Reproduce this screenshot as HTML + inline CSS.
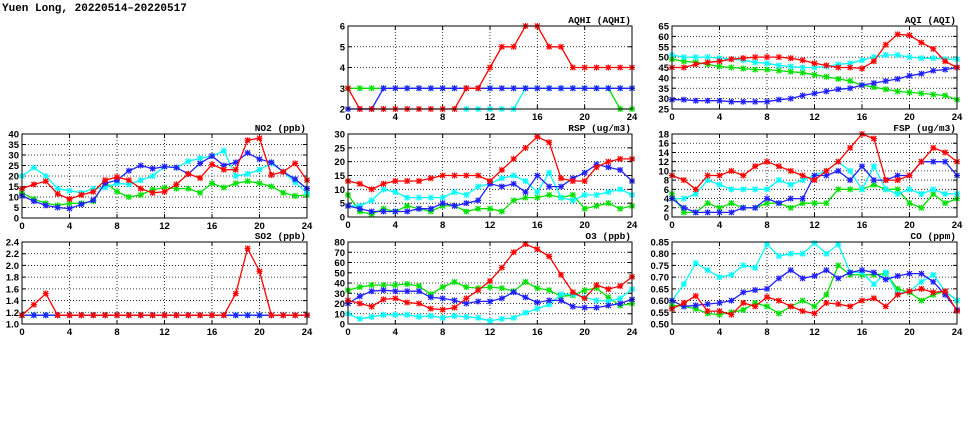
<!DOCTYPE html>
<html><head><meta charset="utf-8"><style>
body{margin:0;background:#fff;width:975px;height:447px;overflow:hidden}
svg{display:block;font-family:"Liberation Sans",sans-serif}
</style></head><body>
<svg id="c" width="975" height="447">
<text x="2" y="11" font-size="11" font-weight="bold" font-family="Liberation Mono, monospace">Yuen Long, 20220514–20220517</text>
</svg>
<script>
const N=null;
const hours=[0,1,2,3,4,5,6,7,8,9,10,11,12,13,14,15,16,17,18,19,20,21,22,23,24];
const xTicks=[0,4,8,12,16,20,24];
const colors={green:"#00e000",cyan:"#00ffff",blue:"#2020ff",red:"#ff0000"};

const aqhiRed=[3,2,2,2,2,2,2,2,2,2,3,3,4,5,5,6,6,5,5,4,4,4,4,4,4];
const aqhiGreen=[3,3,3,3,3,3,3,3,3,3,3,3,3,3,3,3,3,3,3,3,3,3,3,2,2];
const aqhiBlue=[2,2,2,3,3,3,3,3,3,3,3,3,3,3,3,3,3,3,3,3,3,3,3,3,3];
const aqhiCyan=[N,N,N,N,N,N,N,N,N,N,2,2,2,2,2,3,3,3,3,3,3,3,3,3,3];
const aqhiTicks=[2,3,4,5,6];

const aqiRed=[45,45,46.5,47.5,48,49,49.5,50,50,50,49.5,48.5,47,46,45,45,44.5,48,56,61,60.5,57,54,48,45];
const aqiCyan=[51,50,50,50,49.5,49,48.5,47.5,47,46,45.5,45,45,45.5,46.5,47,48.5,50,51,51,50,49.5,49.5,49,49];
const aqiGreen=[49,48,47.5,46.5,45.5,45,44.5,44,44,43.5,43,42.5,41.5,40.5,39.5,38.5,36.5,35.5,34.5,33.5,33,32.5,32,31.5,29.5];
const aqiBlue=[29.5,29.5,29,29,29,28.5,28.5,28.5,28.5,29.5,30,31.5,32.5,33.5,34.5,35,36.5,37.5,38.5,39.5,41,42,43.5,44,45];
const aqiTicks=[25,30,35,40,45,50,55,60,65];

const no2Red=[14,16,17.5,11.5,9,11,12.5,18,19.5,18,14,12,12.5,16,21,19,25.5,23,23,37,38,20.5,22,26,18];
const no2Cyan=[20,24,20,14,13,12,14,14.5,16.5,16,18,20,24.5,24,27,28.5,29.5,32,20,21,23,26,22,17,12];
const no2Blue=[10.5,8,6,5,4.5,6.5,8.5,16.5,18,22.5,25,23.5,24.5,24,21,26,29.5,25,26.5,31,28,26.5,22,18.5,14];
const no2Green=[12,9,7,6,7,7,8,17,12.5,10,11,13.5,14.5,14,14,12,16.5,14.5,16.5,17.5,16.5,15,12,10.5,11];
const no2Ticks=[0,5,10,15,20,25,30,35,40];

const rspRed=[13,12,10,12,13,13,13,14,15,15,15,15,13,17,21,25,29,27,14,13,13,18,20,21,21];
const rspCyan=[4,4,6,10,9,7,7,7,7,9,8,11,12,14,15,13,9,16,7,6,8,8,9,10,8];
const rspBlue=[4,3,2,2,2,2,3,3,5,4,5,6,12,11,12,9,15,11,11,14,16,19,18,17,13];
const rspGreen=[8,2,1,3,2,4,3,2,4,4,2,3,3,2,6,7,7,8,7,8,3,4,5,3,4];
const rspTicks=[0,5,10,15,20,25,30];

const fspRed=[9,8,6,9,9,10,9,11,12,11,10,9,8,10,12,15,18,17,8,8,9,12,15,14,12];
const fspCyan=[4,4,5,8,7,6,6,6,6,8,7,8,9,10,12,10,6,11,6,5,6,5,6,5,5];
const fspBlue=[4,2,1,1,1,1,2,2,4,3,4,4,9,9,10,8,11,8,8,9,9,12,12,12,9];
const fspGreen=[5,1,1,3,2,3,2,2,3,3,2,3,3,3,6,6,6,7,6,6,3,2,5,3,4];
const fspTicks=[0,2,4,6,8,10,12,14,16,18];

const so2Red=[1.15,1.33,1.52,1.15,1.15,1.15,1.15,1.15,1.15,1.15,1.15,1.15,1.15,1.15,1.15,1.15,1.15,1.15,1.52,2.29,1.9,1.15,1.15,1.15,1.15];
const so2Other=[1.15,1.15,1.15,1.15,1.15,1.15,1.15,1.15,1.15,1.15,1.15,1.15,1.15,1.15,1.15,1.15,1.15,1.15,1.15,1.15,1.15,1.15,1.15,1.15,1.15];
const so2Ticks=[1.0,1.2,1.4,1.6,1.8,2.0,2.2,2.4];

const o3Red=[23,20,17,24,25,21,20,15,14,16,25,33,42,55,70,78,73,66,48,31,25,38,34,37,46];
const o3Green=[33,36,38,38,38,39,37,29,36,41,36,35,36,35,32,41,35,33,27,28,33,35,26,18,20];
const o3Blue=[20,27,32,33,32,32,32,26,25,23,20,22,22,25,31,26,21,23,23,17,16,16,18,20,24];
const o3Cyan=[10,5,7,9,9,9,7,8,6,8,7,6,3,5,6,11,15,19,29,29,26,23,22,25,34];
const o3Ticks=[0,10,20,30,40,50,60,70,80];

const coCyan=[0.60,0.67,0.76,0.73,0.70,0.71,0.75,0.74,0.84,0.79,0.80,0.80,0.845,0.80,0.84,0.72,0.72,0.67,0.72,0.63,0.64,0.68,0.71,0.64,0.60];
const coBlue=[0.60,0.575,0.58,0.585,0.59,0.60,0.635,0.645,0.65,0.695,0.73,0.695,0.705,0.73,0.695,0.72,0.73,0.72,0.69,0.705,0.715,0.715,0.68,0.625,0.56];
const coGreen=[0.58,0.575,0.565,0.545,0.54,0.55,0.56,0.59,0.575,0.545,0.575,0.60,0.575,0.625,0.75,0.71,0.71,0.71,0.715,0.65,0.635,0.60,0.625,0.64,0.60];
const coRed=[0.565,0.59,0.62,0.555,0.555,0.54,0.59,0.575,0.615,0.60,0.575,0.555,0.545,0.59,0.585,0.575,0.60,0.61,0.575,0.625,0.64,0.65,0.635,0.64,0.555];
const coTicks=[0.50,0.55,0.60,0.65,0.70,0.75,0.80,0.85];

const NS="http://www.w3.org/2000/svg";
const svg=document.getElementById('c');
function mk(t,a,p){const e=document.createElementNS(NS,t);for(const k in a)e.setAttribute(k,a[k]);(p||svg).appendChild(e);return e;}

function panel(name,title,x0,x1,y0,y1,ticks,dec,series){
  const g=mk('g',{});
  
  
  const ymin=ticks[0],ymax=ticks[ticks.length-1];
  const sx=v=>x0+(v-0)/(24-0)*(x1-x0);
  const sy=v=>y1-(v-ymin)/(ymax-ymin)*(y1-y0);
  ticks.forEach(t=>{
    const y=sy(t);
    if(t!==ymin&&t!==ymax){const l=mk('line',{x1:x0,x2:x1,y1:y,y2:y,stroke:'#000','stroke-width':0.8,'stroke-dasharray':'1,2'},g);
      }
    const tk=mk('path',{d:`M${x0},${y}h4M${x1},${y}h-4`,stroke:'#000','stroke-width':1},g);
    
    const tx=mk('text',{x:x0-3,y:y+3.5,'font-size':9.5,'font-weight':'bold','text-anchor':'end'},g);
    
    tx.textContent=t.toFixed(dec);
  });
  xTicks.forEach(t=>{
    const x=sx(t);
    if(t!==0&&t!==24){const l=mk('line',{x1:x,x2:x,y1:y0,y2:y1,stroke:'#000','stroke-width':0.8,'stroke-dasharray':'1,2'},g);
      }
    const tk=mk('path',{d:`M${x},${y0}v4M${x},${y1}v-4`,stroke:'#000','stroke-width':1},g);
    
    const tx=mk('text',{x:x,y:y1+11,'font-size':9.5,'font-weight':'bold','text-anchor':'middle'},g);
    
    tx.textContent=t;
  });
  const clip='clip-'+name;
  const cp=mk('clipPath',{id:clip},g);mk('rect',{x:x0-4,y:y0-4,width:x1-x0+8,height:y1-y0+8},cp);
  const sg=mk('g',{'clip-path':'url(#'+clip+')'},g);
  series.forEach(([col,vals])=>{
    let d='',pen=false;
    vals.forEach((v,i)=>{if(v===null){pen=false;return;}d+=(pen?'L':'M')+sx(hours[i]).toFixed(1)+','+sy(v).toFixed(1);pen=true;});
    const p=mk('path',{d:d,fill:'none',stroke:colors[col],'stroke-width':1.3},sg);
    
    
    vals.forEach((v,i)=>{
      if(v===null)return;
      const cx=sx(hours[i]),cy=sy(v);
      const m=mk('path',{d:`M${cx-3},${cy}H${cx+3}M${cx},${cy-3}V${cy+3}M${cx-2.5},${cy-2.5}L${cx+2.5},${cy+2.5}M${cx-2.5},${cy+2.5}L${cx+2.5},${cy-2.5}`,stroke:colors[col],'stroke-width':1.2,fill:'none'},sg);
      
      
    });
  });
  const fr=mk('rect',{x:x0,y:y0,width:x1-x0,height:y1-y0,fill:'none',stroke:'#000','stroke-width':1},g);
  
  const tt=mk('text',{x:x1-1,y:y0-3,'font-size':9.5,'font-weight':'bold','text-anchor':'end','font-family':'Liberation Mono, monospace'},g);
  
  tt.textContent=title;
}
panel('aqhi','AQHI (AQHI)',348,632,26,109,aqhiTicks,0,[['green',aqhiGreen],['cyan',aqhiCyan],['blue',aqhiBlue],['red',aqhiRed]]);
panel('aqi','AQI (AQI)',672,957,26,109,aqiTicks,0,[['green',aqiGreen],['cyan',aqiCyan],['blue',aqiBlue],['red',aqiRed]]);
panel('no2','NO2 (ppb)',22,307,134,218,no2Ticks,0,[['green',no2Green],['cyan',no2Cyan],['blue',no2Blue],['red',no2Red]]);
panel('rsp','RSP (ug/m3)',348,632,134,217,rspTicks,0,[['green',rspGreen],['cyan',rspCyan],['blue',rspBlue],['red',rspRed]]);
panel('fsp','FSP (ug/m3)',672,957,134,217,fspTicks,0,[['green',fspGreen],['cyan',fspCyan],['blue',fspBlue],['red',fspRed]]);
panel('so2','SO2 (ppb)',22,307,242,324,so2Ticks,1,[['green',so2Other],['cyan',so2Other],['blue',so2Other],['red',so2Red]]);
panel('o3','O3 (ppb)',348,632,242,324,o3Ticks,0,[['green',o3Green],['cyan',o3Cyan],['blue',o3Blue],['red',o3Red]]);
panel('co','CO (ppm)',672,957,242,324,coTicks,2,[['green',coGreen],['cyan',coCyan],['blue',coBlue],['red',coRed]]);
</script>
</body></html>
